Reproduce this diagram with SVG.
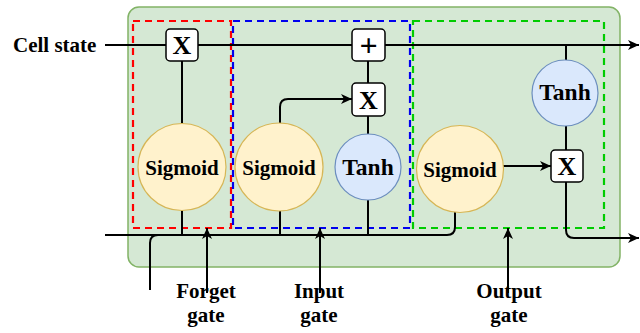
<svg xmlns="http://www.w3.org/2000/svg" width="640" height="333" viewBox="0 0 640 333">
<defs>
<marker id="arr" markerUnits="userSpaceOnUse" markerWidth="12" markerHeight="12" refX="11" refY="5" orient="auto">
<path d="M0,0 L11,5 L0,10 L3,5 z" fill="#000"/>
</marker>
<style>
.t{font-family:"Liberation Serif","Times New Roman",serif;font-weight:bold;fill:#000}
.ln{fill:none;stroke:#000;stroke-width:2}
.box{fill:#fff;stroke:#000;stroke-width:1.5}
.sig{fill:#fff2cc;stroke:#d6b656;stroke-width:1.2}
.tanh{fill:#dae8fc;stroke:#6c8ebf;stroke-width:1.2}
.dash{fill:none;stroke-width:2.2;stroke-dasharray:7 5}
</style>
</defs>
<rect id="cell" x="128" y="7" width="492" height="260" rx="11" fill="#d5e8d4" stroke="#82b366" stroke-width="1.5"/>
<g id="gate-regions">
<rect x="133" y="21" width="98" height="207" class="dash" stroke="#ff0000"/>
<rect x="233" y="21" width="177" height="207" class="dash" stroke="#0000ee"/>
<rect x="413" y="21" width="191" height="207" class="dash" stroke="#00cc00"/>
</g>
<g id="connectors">
<path class="ln" d="M105,45 H166 M198,45 H352"/>
<path class="ln" d="M385,45 H639" marker-end="url(#arr)"/>
<path class="ln" d="M182,61 V123 M182,210 V235 M280,211 V235 M368,61 V83 M368,116 V134 M368,200 V235 M566,45 V60 M566,126 V150"/>
<path class="ln" d="M280,123 V107 Q280,99 288,99 H352" marker-end="url(#arr)"/>
<path class="ln" d="M105,235 H447 Q455,235 455,227 V212"/>
<path class="ln" d="M150,290 V243 Q150,235 158,235 H170"/>
<path class="ln" d="M503,166 H551" marker-end="url(#arr)"/>
<path class="ln" d="M566,182 V230 Q566,238 574,238 H639" marker-end="url(#arr)"/>
<path class="ln" d="M207,293 V228" marker-end="url(#arr)"/>
<path class="ln" d="M320,293 V228" marker-end="url(#arr)"/>
<path class="ln" d="M508,293 V228" marker-end="url(#arr)"/>
</g>
<g id="forget-mult"><rect class="box" x="166" y="29" width="32" height="32" rx="4"/><text class="t" x="182" y="54" font-size="26" text-anchor="middle">X</text></g>
<g id="plus"><rect class="box" x="352" y="29" width="33" height="32" rx="4"/><text class="t" x="368.5" y="56" font-size="32" text-anchor="middle">+</text></g>
<g id="input-mult"><rect class="box" x="352" y="83" width="33" height="33" rx="4"/><text class="t" x="368.5" y="108.5" font-size="26" text-anchor="middle">X</text></g>
<g id="output-mult"><rect class="box" x="551" y="150" width="32" height="32" rx="4"/><text class="t" x="567" y="175" font-size="26" text-anchor="middle">X</text></g>
<g id="forget-sigmoid"><ellipse class="sig" cx="182" cy="167" rx="44" ry="43.5"/><text class="t" x="182" y="175" font-size="21" text-anchor="middle">Sigmoid</text></g>
<g id="input-sigmoid"><ellipse class="sig" cx="279" cy="167" rx="44" ry="44"/><text class="t" x="279" y="175" font-size="21" text-anchor="middle">Sigmoid</text></g>
<g id="input-tanh"><circle class="tanh" cx="368" cy="167" r="33"/><text class="t" x="368" y="175" font-size="23.5" text-anchor="middle">Tanh</text></g>
<g id="output-sigmoid"><circle class="sig" cx="460" cy="169" r="43.5"/><text class="t" x="460" y="177" font-size="21" text-anchor="middle">Sigmoid</text></g>
<g id="output-tanh"><circle class="tanh" cx="565" cy="93" r="33"/><text class="t" x="565" y="100" font-size="23.5" text-anchor="middle">Tanh</text></g>
<g id="labels">
<text class="t" x="13" y="52" font-size="21">Cell state</text>
<text class="t" x="206" y="298" font-size="21" text-anchor="middle">Forget</text>
<text class="t" x="206" y="322" font-size="21" text-anchor="middle">gate</text>
<text class="t" x="319" y="298" font-size="21" text-anchor="middle">Input</text>
<text class="t" x="319" y="322" font-size="21" text-anchor="middle">gate</text>
<text class="t" x="509" y="298" font-size="21" text-anchor="middle">Output</text>
<text class="t" x="509" y="322" font-size="21" text-anchor="middle">gate</text>
</g>
</svg>
